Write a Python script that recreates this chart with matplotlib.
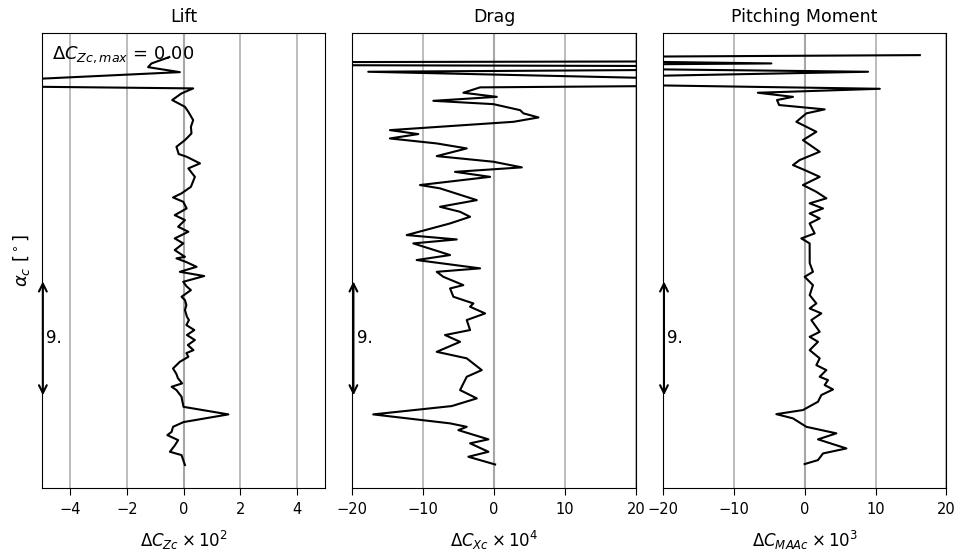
import numpy as np
import matplotlib.pyplot as plt
import matplotlib.transforms as mtransforms

# angle of attack samples [deg] and the deltas
alpha_lift = [-10.00, -9.22, -8.96, -8.44, -8.05, -7.66, -7.40, -7.01, -6.64, -6.04,
              -5.45, -4.92, -4.66, -4.14, -3.88, -3.62, -3.20, -2.89, -2.45, -1.93,
              -1.54, -1.25, -1.02, -0.62, -0.23, 0.16, 0.55, 0.94, 1.33, 1.59,
              2.11, 2.50, 2.89, 3.15, 3.67, 3.98, 4.32, 4.77, 5.10, 5.49,
              5.86, 6.15, 6.27, 6.80, 7.32, 7.71, 8.23, 8.62, 9.14, 9.53,
              10.05, 10.57, 10.91, 11.23, 11.74, 12.52, 13.18, 13.57, 14.09, 14.30,
              14.87, 15.39, 15.91, 16.43, 16.95, 17.60, 17.99, 18.52, 19.04, 19.43,
              19.67, 20.70, 21.09, 21.38, 21.64, 21.88]
d_lift = [0.05, -0.07, -0.48, -0.30, -0.19, -0.57, -0.42, -0.37, 0.00, 1.58,
          0.00, -0.05, -0.07, -0.25, -0.42, -0.05, -0.20, -0.25, -0.37, -0.13,
          0.17, 0.10, 0.35, 0.15, 0.40, 0.12, 0.38, 0.10, 0.19, 0.12,
          0.05, 0.10, 0.05, -0.07, 0.26, 0.10, -0.01, 0.73, -0.13, 0.46,
          0.10, -0.25, 0.05, -0.31, -0.01, -0.31, 0.17, -0.19, 0.05, -0.31,
          0.11, -0.01, -0.37, -0.07, 0.26, 0.40, 0.17, 0.58, 0.11, -0.17,
          -0.25, 0.05, 0.28, 0.26, 0.34, 0.17, 0.05, -0.40, -0.07, 0.34,
          -10.0, -0.13, -1.25, -1.13, -0.80, -0.50]

alpha_drag = [-9.95, -9.35, -8.96, -8.30, -7.99, -7.27, -7.01, -6.74, -6.04, -5.39,
              -4.79, -4.14, -3.10, -2.58, -1.66, -1.15, -0.37, 0.16, 0.55, 1.33,
              1.85, 2.37, 2.63, 3.15, 3.80, 4.06, 4.71, 5.10, 5.37, 6.02,
              6.41, 7.32, 7.63, 7.97, 8.88, 9.40, 9.79, 10.18, 10.70, 11.62,
              11.88, 12.52, 12.91, 13.26, 13.70, 14.14, 14.74, 15.13, 15.52, 15.86,
              16.17, 16.82, 17.16, 17.48, 17.73, 18.20, 18.46, 18.77, 19.09, 19.51,
              19.77, 20.73, 21.09, 21.38, 21.64]
d_drag = [0.14, -3.63, -0.80, -3.39, -0.80, -5.04, -3.86, -6.21, -17.05, -5.98,
          -2.44, -4.80, -3.86, -1.74, -3.86, -8.09, -4.80, -6.92, -3.39, -3.86,
          -1.27, -3.39, -2.92, -5.74, -6.21, -4.34, -7.16, -8.09, -1.98, -10.92,
          -6.21, -11.40, -5.27, -12.33, -6.21, -3.39, -4.80, -7.63, -2.44, -7.63,
          -10.45, -0.56, -5.51, 3.91, -0.10, -8.09, -3.86, -8.09, -14.69, -10.69,
          -14.69, 2.73, 6.26, 4.14, 3.67, -0.10, -8.57, 0.38, -4.34, -1.98,
          60.0, -17.75, 86.0, -120.0, 120.0]

alpha_mom = [-9.92, -9.61, -9.09, -8.70, -7.99, -7.52, -7.01, -6.35, -6.02, -5.70,
             -5.05, -4.53, -4.09, -3.75, -3.36, -3.10, -2.58, -2.19, -1.66, -1.02,
             -0.37, 0.02, 0.41, 1.33, 1.85, 2.24, 2.63, 3.28, 4.06, 4.71,
             5.10, 5.78, 6.54, 7.32, 7.71, 8.10, 8.88, 9.27, 9.66, 10.05,
             10.45, 10.84, 11.35, 11.88, 12.52, 13.05, 13.44, 13.83, 14.48, 15.39,
             16.04, 16.82, 17.48, 17.79, 18.13, 18.52, 18.77, 19.09, 19.40, 20.00,
             20.73, 21.17, 21.38, 21.80, 22.03]
d_mom = [0.00, 1.88, 2.59, 5.89, 1.88, 4.47, 0.24, -1.65, -4.00, -0.24,
         1.88, 2.35, 4.00, 2.82, 3.29, 2.12, 3.06, 1.65, 2.12, 0.71,
         1.88, 0.71, 2.12, 0.94, 2.35, 0.71, 1.65, 0.71, 1.17, 0.00,
         1.17, 0.71, 0.71, 0.70, -0.47, 1.41, 0.70, 2.12, 0.70, 2.59,
         0.70, 3.06, 1.65, -0.24, 2.12, 0.00, -1.65, -0.71, 2.12, -0.24,
         1.65, -1.17, 0.24, 2.82, -3.60, -3.90, -1.65, -6.60, 10.60, -60.0,
         8.94, -60.0, -4.70, -60.0, 16.24]

titles = ["Lift", "Drag", "Pitching Moment"]
xlabels = [r"$\Delta C_{Zc} \times 10^2$", r"$\Delta C_{Xc} \times 10^4$",
           r"$\Delta C_{MAAc} \times 10^3$"]
xlims = [(-5, 5), (-20, 20), (-20, 20)]
xticks = [[-4, -2, 0, 2, 4], [-20, -10, 0, 10, 20], [-20, -10, 0, 10, 20]]
ylim = (-11.76, 23.73)
arrow_lo, arrow_hi = -4.55, 4.35
arrow_text = "9."
max_text = r"$\Delta C_{Zc,max}$ = 0.00"

series = [(d_lift, alpha_lift), (d_drag, alpha_drag), (d_mom, alpha_mom)]

fig, axes = plt.subplots(1, 3, figsize=(9.57, 5.56), dpi=100)
fig.subplots_adjust(left=0.0436, right=0.989, top=0.940, bottom=0.123, wspace=0.095)

for ax, (d, a), title, xl, lim, tk in zip(axes, series, titles, xlabels, xlims, xticks):
    ax.grid(axis="x", color="#b0b0b0", linewidth=1.2)
    ax.axvline(0, color="gray", linewidth=1.5, zorder=1)
    ax.plot(d, a, color="black", linewidth=1.5, zorder=3)
    ax.set_xlim(*lim)
    ax.set_xticks(tk)
    ax.tick_params(axis="x", length=5, pad=5, labelsize=10.5)
    ax.set_ylim(*ylim)
    ax.set_yticks([])
    ax.set_title(title, fontsize=12.5, pad=8)
    ax.set_xlabel(xl, fontsize=12, labelpad=9)
    # span arrow on the left edge
    trans = mtransforms.blended_transform_factory(ax.transAxes, ax.transData)
    ax.annotate("", xy=(0.004, arrow_hi), xytext=(0.004, arrow_lo),
                xycoords=trans, textcoords=trans,
                arrowprops=dict(arrowstyle="<->", color="black", lw=1.5,
                                mutation_scale=14, shrinkA=0, shrinkB=0))
    ax.text(0.015, (arrow_lo + arrow_hi) / 2, arrow_text, transform=trans,
            va="center", ha="left", fontsize=12)

axes[0].set_ylabel(r"$\alpha_c\ [^\circ]$", fontsize=13, labelpad=7)
axes[0].text(0.035, 0.975, max_text, transform=axes[0].transAxes,
             va="top", ha="left", fontsize=13)

plt.savefig("out.png", dpi=100)
